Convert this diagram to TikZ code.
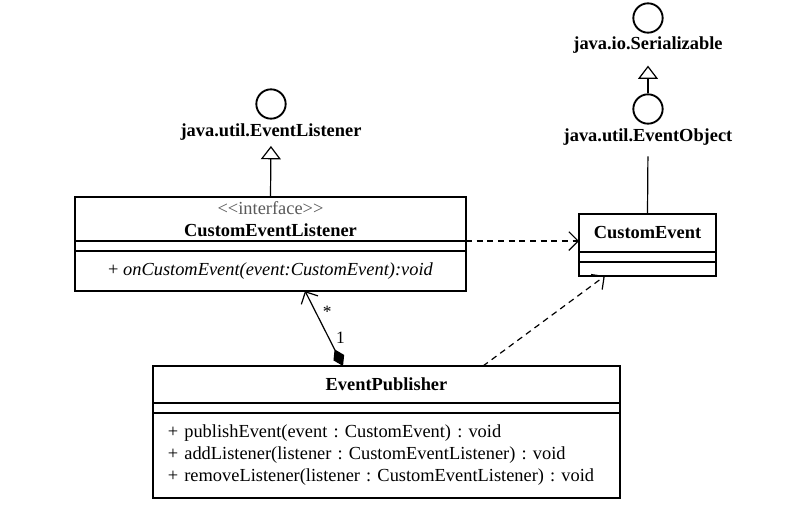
\documentclass[tikz,border=0pt]{standalone}
\usepackage{fontspec}
\setmainfont{Liberation Serif}
\usetikzlibrary{arrows.meta,positioning}
\frenchspacing
\newcommand{\umlfont}{\fontsize{13.8}{16.5}\selectfont}
\tikzset{class name/.style={draw, line width=1.4pt, outer sep=0pt,
    minimum width=#1, align=center, font=\umlfont\bfseries}}
\tikzset{class attrs/.style={draw, line width=1.4pt, outer sep=0pt,
    minimum width=#1, minimum height=7.5pt, inner sep=0pt}}
\tikzset{class ops/.style={draw, line width=1.4pt, outer sep=0pt,
    minimum width=#1, font=\umlfont}}
\tikzset{iface circle/.style={circle, draw, line width=1.4pt, minimum size=22pt, inner sep=0pt}}
\tikzset{iface label/.style={font=\umlfont\bfseries, inner sep=1pt}}
\tikzset{real edge/.style={draw, line width=0.9pt, -{Triangle[open, length=10pt, width=15pt]}}}
\tikzset{plain edge/.style={draw, line width=0.9pt}}
\tikzset{dep edge/.style={draw, line width=0.9pt, dash pattern=on 4.5pt off 3.5pt,
    -{Straight Barb[length=7pt, width=14pt]}}}
\tikzset{assoc edge/.style={draw, line width=0.9pt,
    {Diamond[length=14pt, width=9pt]}-{Straight Barb[length=7pt, width=14pt]}}}
\tikzset{mult label/.style={font=\fontsize{13}{15}\selectfont, inner sep=1pt}}

\begin{document}
\begin{tikzpicture}
      [x=0.75pt, y=-0.75pt]
      \useasboundingbox (0,0) rectangle (794,514);
      % interfaces
      \node [iface circle] (elcirc)  at (271,104) {};
      \node [iface label]  (ellab)   at (271,132) {java.util.EventListener};
      \node [iface circle] (sercirc) at (648,18)  {};
      \node [iface label]  (serlab)  at (648,45)  {java.io.Serializable};
      \node [iface circle] (eocirc)  at (648,109) {};
      \node [iface label]  (eolab)   at (648,137) {java.util.EventObject};
      % classes
      \node [class name=293pt] (lname) at (270.5,219)
            {{\mdseries\color{black!65}{<}{<}interface{>}{>}}\\CustomEventListener};
      \node [class attrs=293pt, below=0pt of lname] (lattr) {};
      \node [class ops=293pt, minimum height=30pt, below=0pt of lattr] (lops)
            {+ \textit{onCustomEvent(event:CustomEvent):void}};
      \node [class name=102.75pt, minimum height=28.5pt] (ename) at (647.5,233) {CustomEvent};
      \node [class attrs=102.75pt, below=0pt of ename] (eattr) {};
      \node [class ops=102.75pt, minimum height=10.5pt, inner sep=0pt, below=0pt of eattr] (eops) {};
      \node [class name=350pt, minimum height=27.75pt] (pname) at (386.5,384.5) {EventPublisher};
      \node [class attrs=350pt, below=0pt of pname] (pattr) {};
      \node [class ops=350pt, minimum height=63.75pt, text width=328pt, align=left,
             below=0pt of pattr] (pops)
            {+ publishEvent(event : CustomEvent) : void\\
             + addListener(listener : CustomEventListener) : void\\
             + removeListener(listener : CustomEventListener) : void};

      \draw [real edge, shorten >=3pt] (lname.north) -- (ellab.south);
      \draw [real edge, shorten >=8pt] (eocirc) -- (serlab.south);
      \draw [plain edge, shorten >=7pt] (ename.north) -- (eolab.south);
      \draw [dep edge] (lname.south east) -- (lname.south east -| ename.west);
      \draw [dep edge] ([xshift=72.4pt]pname.north) -- ([xshift=-32pt]eops.south);
      \draw [assoc edge] ([xshift=-32.6pt]pname.north) -- ([xshift=25.9pt]lops.south)
            node [mult label, pos=.37, right=4pt] {1}
            node [mult label, pos=.72, right=4pt] {*};
    \end{tikzpicture}
\end{document}
